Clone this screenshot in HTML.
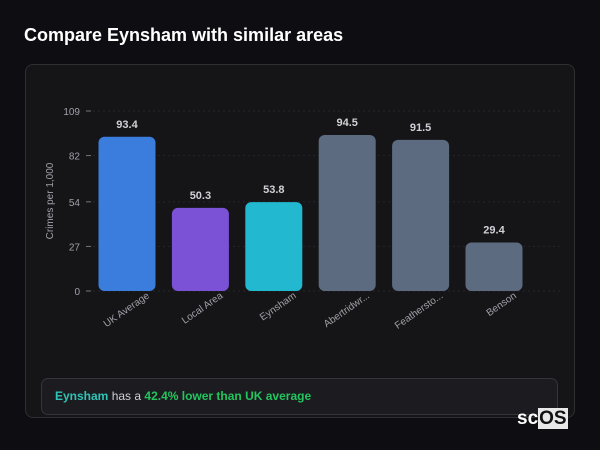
<!DOCTYPE html>
<html><head><meta charset="utf-8"><style>
body{margin:0;width:600px;height:450px;background:#0e0e12;font-family:"Liberation Sans",sans-serif;overflow:hidden;position:relative}
#title{position:absolute;left:24px;top:25px;color:#fff;font-weight:bold;font-size:18px}
#card{position:absolute;left:25px;top:64px;width:550px;height:354px;background:#151518;border:1px solid #2e2e33;border-radius:8px;box-sizing:border-box}
#summary{position:absolute;left:41px;top:378px;width:517px;height:37px;background:#1c1c20;border:1px solid #34343a;border-radius:7px;box-sizing:border-box;font-size:12px;color:#cfcfd4;line-height:35px;padding-left:13px}
#logo{position:absolute;left:517px;top:408px;font-size:19px;font-weight:bold;color:#fff}
#logo span{background:#e8e8e8;color:#111;padding:0 1px}
svg{position:absolute;left:0;top:0}
</style></head><body>
<div id="title">Compare Eynsham with similar areas</div>
<div id="card"></div>
<svg id="chart" width="600" height="450"></svg>
<div id="summary"><b style="color:#2ec4b6">Eynsham</b> has a <b style="color:#22c55e">42.4% lower than UK average</b></div>
<div id="logo">sc<span>OS</span></div>
<script>
const categories=["UK Average","Local Area","Eynsham","Abertridwr...","Feathersto...","Benson"];
const values=[93.4,50.3,53.8,94.5,91.5,29.4];
const colors=["#3b7ddd","#7b52d6","#22b8d0","#5d6b80","#5d6b80","#5d6b80"];
const ticks=[0,27,54,82,109];
const svg=document.getElementById('chart');
const NS="http://www.w3.org/2000/svg";
const y0=291,yTop=111,yMax=109;
const y=v=>y0-(v/yMax)*(y0-yTop);
const x=i=>127+i*73.4;
const bw=57;
function mk(t,a){const e=document.createElementNS(NS,t);for(const k in a)e.setAttribute(k,a[k]);svg.appendChild(e);return e;}
ticks.forEach(t=>{
 const g=mk('line',{x1:93,x2:560,y1:y(t),y2:y(t),stroke:'#26262b','stroke-dasharray':'2,3'});
 
 
 const tk=mk('line',{x1:86,x2:91,y1:y(t),y2:y(t),stroke:'#777'});
 
 
 const l=mk('text',{x:80,y:y(t)+4,'text-anchor':'end',fill:'#a0a0a8','font-size':'10'});
 l.textContent=t;
 
 
});
const yt=mk('text',{x:0,y:0,transform:'translate(53,201) rotate(-90)','text-anchor':'middle',fill:'#a0a0a8','font-size':'10'});
yt.textContent='Crimes per 1,000';


categories.forEach((c,i)=>{
 const b=mk('rect',{x:x(i)-bw/2,y:y(values[i]),width:bw,height:y0-y(values[i]),rx:6,fill:colors[i]});
 
 
 const v=mk('text',{x:x(i),y:y(values[i])-9,'text-anchor':'middle',fill:'#d0d0d6','font-size':'11','font-weight':'bold'});
 v.textContent=values[i];
 
 
 const l=mk('text',{x:0,y:0,transform:`translate(${x(i)+23},${y0+6}) rotate(-35)`,'text-anchor':'end',fill:'#a0a0a8','font-size':'10'});
 l.textContent=c;
 
 
});
</script>
</body></html>
